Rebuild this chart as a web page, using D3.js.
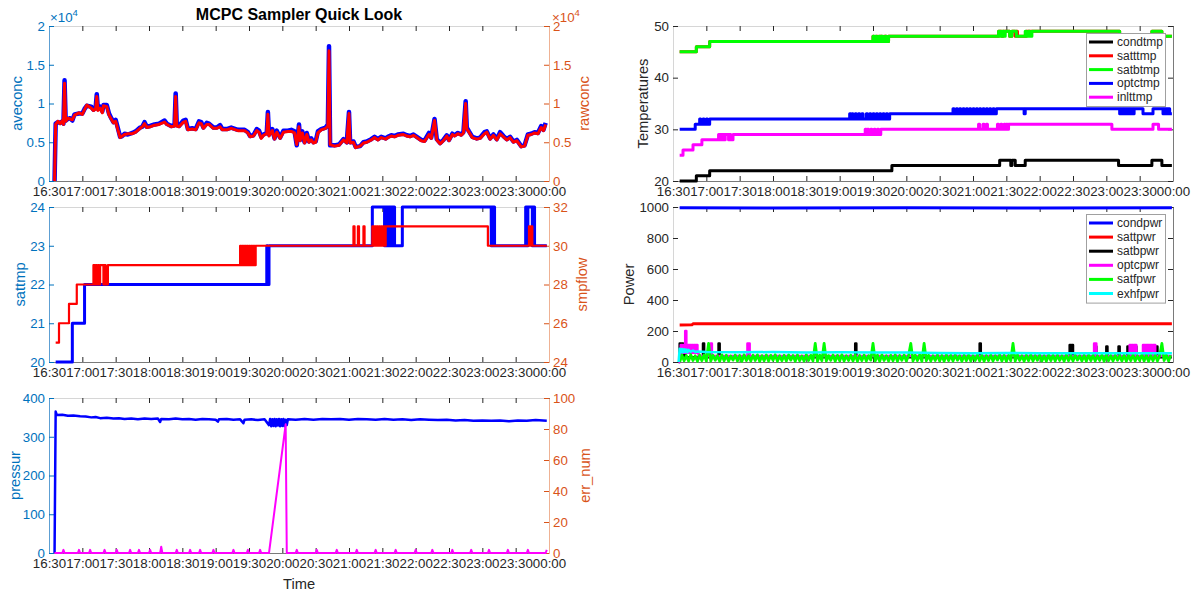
<!DOCTYPE html>
<html>
<head>
<meta charset="utf-8">
<script src="https://cdn.jsdelivr.net/npm/d3@7"></script>
<style>
  body { margin: 0; background: #fff; }
  svg { display: block; font-family: "Liberation Sans", Arial, Helvetica, sans-serif; }
</style>
</head>
<body>
<svg id="fig" width="1193" height="592"></svg>
<script>
// ---------- data ----------
const timeTicks = ['16:30','17:00','17:30','18:00','18:30','19:00','19:30','20:00',
  '20:30','21:00','21:30','22:00','22:30','23:00','23:30','00:00']

// panel 1 : aveconc / rawconc
const concTicks = [0, 0.5, 1, 1.5, 2]          // x 10^4
const concTimes = [
  '16:35','16:36','16:38','16:40','16:42','16:43','16:44','16:45','16:47','16:49',
  '16:51','16:53','16:57','17:00','17:02','17:04','17:08','17:10','17:12','17:13',
  '17:14','17:16','17:18','17:19','17:22','17:24','17:26','17:28','17:30','17:32',
  '17:34','17:36','17:38','17:41','17:45','17:48','17:52','17:54','17:56','17:58',
  '18:01','18:05','18:09','18:14','18:16','18:20','18:23','18:24','18:25','18:27',
  '18:31','18:33','18:35','18:39','18:42','18:45','18:47','18:49','18:52','18:54',
  '18:58','19:01','19:04','19:06','19:10','19:14','19:16','19:20','19:26','19:29',
  '19:31','19:34','19:37','19:39','19:41','19:43','19:46','19:47','19:48','19:51',
  '19:53','19:55','19:58','20:01','20:05','20:08','20:11','20:13','20:15','20:16',
  '20:18','20:20','20:22','20:24','20:26','20:28','20:30','20:32','20:35','20:39',
  '20:41','20:42','20:43','20:47','20:51','20:55','20:58','21:00','21:01','21:04',
  '21:06','21:10','21:13','21:16','21:20','21:23','21:26','21:29','21:33','21:35',
  '21:38','21:41','21:44','21:49','21:52','21:55','21:58','22:01','22:05','22:08',
  '22:12','22:14','22:17','22:19','22:22','22:25','22:28','22:30','22:33','22:35',
  '22:38','22:41','22:43','22:45','22:46','22:48','22:51','22:55','22:58','23:02',
  '23:04','23:07','23:10','23:13','23:16','23:19','23:22','23:25','23:28','23:31',
  '23:35','23:38','23:41','23:44','23:47','23:50','23:53','23:55','23:57']
const aveconc = [
  0,7400,7600,7500,7700,7400,13000,7800,8000,8100,
  7800,8600,8700,8700,9300,9700,9600,9200,9500,11200,
  9300,9600,9000,9800,9800,8700,8100,7600,7900,6800,
  5700,5800,6100,6000,6200,6400,6900,7000,7600,7000,
  7100,7300,7400,7800,7400,7100,7200,11300,7200,7100,
  7800,7900,6700,6800,6700,7700,7600,6900,7500,7400,
  6900,6900,7200,6700,6700,6900,6800,6600,6600,6300,
  5800,5900,6700,6500,5700,6000,6200,8900,6000,6700,
  5500,6500,5600,6500,6500,6600,6400,4600,7300,5300,
  6400,5000,6200,5100,5500,5000,5100,6400,6700,6900,
  7300,17400,4600,4600,4700,5400,5000,8900,5000,5100,
  4400,4500,5000,5100,5400,5700,5400,5700,5500,5700,
  5900,5800,6000,6100,5900,5800,6000,5700,5300,5200,
  6200,5600,8000,5400,4900,5300,5900,5300,6100,5900,
  6200,6000,6300,10300,6900,6400,5700,5500,5600,6300,
  6400,5500,6000,5400,6300,5800,5400,5700,5100,5300,
  4500,4600,6000,6100,6300,6200,7100,6600,7500]
const rawconc = [
  0,7300,7700,7400,7800,7300,12600,7700,8100,8000,
  7900,8500,8800,8600,9200,9800,9400,9100,9300,10900,
  9100,9400,8800,9700,9600,8500,8000,7500,7700,6600,
  5600,5800,6000,6100,6100,6300,6800,7000,7400,6900,
  7000,7200,7300,7600,7300,7000,7100,10900,7100,7000,
  7600,7700,6600,6700,6600,7500,7400,6800,7300,7300,
  6800,6800,7000,6600,6600,6800,6700,6500,6500,6200,
  5700,5800,6500,6300,5500,5900,6100,8600,5800,6500,
  5400,6300,5500,6300,6400,6400,6200,4700,7000,5200,
  6200,4900,6000,5000,5300,4900,5000,6200,6600,6800,
  7100,16800,4700,4500,4600,5300,4900,8700,4900,5000,
  4300,4500,4900,5000,5300,5600,5300,5600,5400,5600,
  5800,5700,5900,6000,5800,5700,5900,5600,5200,5100,
  6000,5500,7800,5300,4800,5200,5800,5200,6000,5800,
  6100,5900,6200,10000,6700,6300,5600,5400,5500,6100,
  6300,5400,5900,5300,6100,5700,5300,5600,5000,5200,
  4400,4500,5900,6000,6200,6100,6900,6500,7300]

// panel 2 : sattmp / smpflow (stepped)
const sattmpTicks = [20, 21, 22, 23, 24]
const smpflowTicks = [24, 26, 28, 30, 32]
const sattmpTimes = ['16:36','16:51','17:02','19:46','19:47','19:48','21:21','21:32','21:33','21:34',
  '21:35','21:36','21:37','21:38','21:39','21:41','21:48','23:08','23:09','23:11',
  '23:39','23:40','23:41','23:45','23:46','23:47','23:58']
const sattmp = [20,21,22,23,22,23,24,23,24,23, 24,23,24,23,24,23,24,23,24,23, 24,23,24,23,24,23,23]
const smpflowTimes = ['16:36','16:39','16:48','16:55','17:10','17:11','17:12','17:13','17:14','17:15',
  '17:16','17:19','17:20','17:21','17:23','19:22','19:23','19:24','19:25','19:26',
  '19:27','19:28','19:29','19:30','19:31','19:32','19:33','19:34','19:35','19:36',
  '21:04','21:05','21:08','21:09','21:13','21:14','21:21','21:22','21:23','21:24',
  '21:25','21:26','21:27','21:28','21:29','21:30','21:31','21:32','21:33','23:05',
  '23:42','23:43','23:44','23:45','23:58']
const smpflow = [25,26,27,28,29,28,29,28,29,28, 29,28,29,28,29,30,29,30,29,30,
  29,30,29,30,29,30,29,30,29,30, 31,30,31,30,31,30,31,30,31,30,
  31,30,31,30,31,30,31,30,31,30, 31,30,31,30,30]

// panel 3 : pressur / err_num
const pressTicks = [0, 100, 200, 300, 400]
const errTicks = [0, 20, 40, 60, 80, 100]
const pressTimes = ['16:35','16:36','16:37','16:42','16:47','16:52','16:58','17:03','17:08','17:12',
  '17:16','17:22','17:28','17:33','17:38','17:44','17:50','17:56','18:02','18:08',
  '18:10','18:11','18:18','18:24','18:30','18:36','18:42','18:48','18:54','19:00',
  '19:02','19:03','19:10','19:16','19:22','19:25','19:26','19:32','19:38','19:44',
  '19:48','19:49','19:50','19:51','19:52','19:53','19:54','19:55','19:56','19:57',
  '19:58','19:59','20:00','20:01','20:02','20:03','20:04','20:05','20:12','20:20',
  '20:28','20:36','20:44','20:52','21:00','21:08','21:16','21:24','21:32','21:40',
  '21:48','21:56','22:04','22:12','22:20','22:28','22:36','22:44','22:52','23:00',
  '23:08','23:16','23:24','23:32','23:40','23:48','23:58']
const pressur = [0,365,356,357,354,355,353,352,350,351,
  348,349,347,348,346,347,345,347,346,347,
  338,346,345,347,345,346,344,346,345,344,
  339,345,346,344,345,335,344,345,343,345,
  330,346,327,345,328,346,327,345,329,346,
  327,345,328,346,327,344,330,345,344,346,
  344,346,345,346,344,346,345,344,346,344,
  345,343,345,344,343,344,342,343,341,342,
  341,342,340,342,341,343,341]
const errTimes = ['16:35','16:42','16:43','16:44','16:56','16:57','16:58','17:06','17:07','17:08',
  '17:19','17:20','17:21','17:30','17:31','17:32','17:42','17:43','17:44','17:50',
  '17:51','17:52','18:00','18:01','18:02','18:10','18:11','18:12','18:24','18:25',
  '18:26','18:36','18:37','18:38','18:45','18:46','18:47','18:57','18:58','18:59',
  '19:15','19:16','19:17','19:28','19:29','19:30','19:39','19:40','19:41','19:48',
  '20:03','20:04','20:12','20:13','20:14','20:30','20:31','20:32','20:48','20:49',
  '20:50','21:06','21:07','21:08','21:23','21:24','21:25','21:41','21:42','21:43',
  '21:59','22:00','22:01','22:14','22:15','22:16','22:32','22:33','22:34','22:49',
  '22:50','22:51','23:05','23:06','23:07','23:22','23:23','23:24','23:40','23:41',
  '23:42','23:57','23:58']
const errNum = [0,0,2,0,0,2,0,0,2,0,
  0,2,0,0,2,0,0,2,0,0,
  2,0,0,2,0,0,4,0,0,2,
  0,0,2,0,0,2,0,0,2,0,
  0,2,0,0,2,0,0,2,0,0,
  83,0,0,2,0,0,2,0,0,2,
  0,0,2,0,0,2,0,0,2,0,
  0,2,0,0,2,0,0,2,0,0,
  2,0,0,2,0,0,2,0,0,2,
  0,0,2]

// right top : temperatures (stepped)
const tempTicks = [20, 30, 40, 50]
const condtmpTimes = ['16:36','16:51','17:03','19:47','21:24','21:34','21:35','21:38','21:47','23:11','23:41','23:50','23:59']
const condtmp = [20,21,22,23,24,23,24,23,24,23,24,23,23]
const satttmpTimes = ['16:36','16:51','17:03','19:30','19:31','19:33','19:34','19:36','19:38','19:40',
  '19:42','19:44','21:23','21:26','21:27','21:33','21:35','21:38','21:39','21:40',
  '21:48','23:12','23:41','23:50','23:59']
const satttmp = [45,46,47,48,47,48,47,48,47,48, 47,48,49,48,49,48,49,48,49,48, 49,48,49,48,48]
const satbtmpTimes = ['16:36','16:51','17:03','19:30','19:31','19:32','19:33','19:35','19:36','19:37',
  '19:39','19:41','19:42','19:44','21:23','21:25','21:26','21:28','21:29','21:33',
  '21:35','21:39','21:47','21:48','21:50','21:51','21:53','23:12','23:41','23:50','23:59']
const satbtmp = [45,46,47,48,47,48,47,48,47,48, 47,48,47,48,49,48,49,48,49,48,
  49,48,49,48,49,48,49,48,49,48,48]
const optctmpTimes = ['16:36','16:50','16:54','16:55','16:57','16:58','17:00','17:01','17:03','19:09',
  '19:10','19:11','19:12','19:14','19:15','19:17','19:18','19:20','19:21','19:24',
  '19:25','19:27','19:28','19:30','19:31','19:33','19:34','19:36','19:37','19:39',
  '19:40','19:42','19:43','19:45','20:42','20:43','20:45','20:46','20:48','20:49',
  '20:51','20:52','20:54','20:55','20:57','20:58','21:00','21:01','21:03','21:04',
  '21:06','21:07','21:09','21:10','21:12','21:13','21:15','21:16','21:18','21:19',
  '21:21','21:46','21:47','23:12','23:13','23:15','23:16','23:18','23:19','23:21',
  '23:22','23:24','23:25','23:33','23:42','23:51','23:52','23:54','23:55','23:57','23:59']
const optctmp = [30,31,32,31,32,31,32,31,32,33, 32,33,32,33,32,33,32,33,32,33,
  32,33,32,33,32,33,32,33,32,33, 32,33,32,33,34,33,34,33,34,33,
  34,33,34,33,34,33,34,33,34,33, 34,33,34,33,34,33,34,33,34,33,
  34,33,34,33,34,33,34,33,34,33, 34,33,34,33,34,33,34,33,34,33,33]
const inlttmpTimes = ['16:36','16:39','16:48','16:56','17:11','17:12','17:13','17:14','17:15','17:16',
  '17:17','17:20','17:21','17:22','17:24','19:23','19:24','19:25','19:26','19:28',
  '19:29','19:31','19:32','19:34','19:35','19:37','21:05','21:06','21:09','21:10',
  '21:12','21:13','21:22','21:23','21:25','21:26','21:28','21:29','21:30','21:31',
  '21:32','23:05','23:42','23:47','23:59']
const inlttmp = [25,26,27,28,29,28,29,28,29,28, 29,28,29,28,29,30,29,30,29,30,
  29,30,29,30,29,30,31,30,31,30, 31,30,31,30,31,30,31,30,31,30, 31,30,31,30,30]

// right bottom : power
const powerTicks = [0, 200, 400, 600, 800, 1000]
const condpwrTimes = ['16:36','18:00','20:00','22:00','23:59']
const condpwr = [995, 994, 995, 994, 995]
const sattpwrTimes = ['16:36','16:47','16:48','23:59']
const sattpwr = [239, 240, 246, 246]
const satbpwrTimes = ['16:35','16:36','16:37','16:38','16:39','16:40','16:41','16:57','16:58','17:11',
  '17:12','19:14','19:15','21:06','21:07','22:27','22:28','22:29','22:30','22:50',
  '22:51','23:00','23:01','23:11','23:12','23:19','23:20','23:21','23:22','23:26',
  '23:27','23:45','23:46','23:59']
const satbpwr = [0,120,40,120,40,110,30,120,30,120, 30,120,30,120,30,110,40,110,30,100,
  30,100,30,100,30,100,40,100,30,100, 30,100,30,30]
const optcpwrTimes = ['16:35','16:36','16:37','16:38','16:39','16:40','16:41','16:42','16:43','16:44',
  '16:45','16:46','16:47','16:48','16:49','16:50','16:51','16:52','16:53','17:04',
  '17:05','17:37','17:39','22:49','22:51','23:21','23:22','23:23','23:24','23:25',
  '23:27','23:33','23:35','23:36','23:38','23:39','23:41','23:42','23:44','23:59']
const optcpwr = [0,60,110,60,110,60,200,60,110,60, 110,60,110,60,110,60,110,60,38,120,
  38,120,38,120,38,110,38,110,38,110, 38,110,38,110,38,110,38,110,38,38]
// satfpwr logged every 2 min from 16:36
const satfpwrStart = '16:36'
const satfpwrStepMin = 2
const satfpwr = [
  0,45,8,42,6,47,10,40,5,44,9,46,7,120,6,43,11,41,5,46,
  8,44,6,39,12,45,7,42,5,47,9,40,6,44,10,46,4,41,8,45,
  6,43,11,47,5,40,9,44,7,46,12,42,5,45,8,39,6,47,10,43,
  7,120,5,44,9,120,6,41,11,45,5,43,8,47,6,40,10,44,7,46,
  5,42,9,45,6,41,12,120,7,44,5,46,10,40,6,43,8,47,5,42,
  11,45,7,41,120,6,44,9,46,5,120,8,43,6,40,10,45,7,42,5,
  46,9,43,6,47,11,41,5,44,8,45,6,40,10,46,7,43,5,42,9,
  45,6,41,12,47,7,44,5,43,9,120,6,46,10,40,5,44,8,47,6,
  42,11,45,7,41,5,46,9,43,6,44,10,40,5,47,8,42,6,45,12,
  41,7,44,5,46,9,43,6,40,10,45,5,47,8,42,6,44,11,41,7,
  46,5,43,9,45,6,40,10,47,7,44,5,42,8,46,6,41,120,9,45,
  7,44]
const exhfpwrTimes = ['16:35','16:36','16:37','16:38','16:39','16:40','16:41','16:42','16:43','16:44',
  '16:46','16:48','16:50','16:52','17:00','17:30','18:00','18:30','19:00','19:30',
  '20:00','20:30','21:00','21:30','22:00','22:30','23:00','23:30','23:59']
const exhfpwr = [0,85,62,84,63,82,64,80,62,78, 66,74,65,68,64,63,64,62,63,61,
  62,58,57,58,56,57,56,57,56]

// ---------- drawing ----------
const svg = d3.select('#fig')
const FONT = '"Liberation Sans", Arial, Helvetica, sans-serif'
const DARK = '#262626'
const AX_BLUE = '#0072BD', AX_ORANGE = '#D95319'
const W = 500, H = 155

const parseT = s => {
  const p = s.split(':').map(Number)
  return new Date(2021, 0, p[0] < 12 ? 2 : 1, p[0], p[1])
}
const x = d3.scaleTime().domain([parseT('16:30'), parseT('00:00')]).range([0, W])
const xTickDates = timeTicks.map(parseT)

function styleAxis(a, color, domainColor) {
  a.attr('font-size', null).attr('font-family', null)
  a.select('.domain').attr('stroke', domainColor || color)
  a.selectAll('.tick line').attr('stroke', color)
  a.selectAll('.tick text').attr('fill', color).attr('font-size', 13.3).attr('font-family', FONT)
}

// axes box in the matlab look: ticks pointing inside
function frame(px, py, opt) {
  const g = svg.append('g').attr('transform', `translate(${px},${py})`)
  g.append('g')
    .call(d3.axisTop(x).tickValues(xTickDates).tickSize(-5).tickSizeOuter(0).tickFormat(''))
    .call(a => styleAxis(a, DARK, '#d6d6d6'))
  g.append('g').attr('transform', `translate(0,${H})`)
    .call(d3.axisBottom(x).tickValues(xTickDates).tickSize(-5).tickSizeOuter(0).tickPadding(6)
      .tickFormat(d3.timeFormat('%H:%M')))
    .call(a => styleAxis(a, DARK, '#7a7a7a'))
  g.append('g')
    .call(d3.axisLeft(opt.yL).tickValues(opt.ticksL).tickSize(-5).tickSizeOuter(0).tickPadding(4)
      .tickFormat(opt.fmtL || (d => d)))
    .call(a => styleAxis(a, opt.colL, opt.lineL))
  g.append('g').attr('transform', `translate(${W},0)`)
    .call(d3.axisRight(opt.yR).tickValues(opt.ticksR).tickSize(-5).tickSizeOuter(0).tickPadding(4)
      .tickFormat(opt.fmtR || (d => d)))
    .call(a => styleAxis(a, opt.colR, opt.lineR))
  return g
}

function plot(g, times, vals, y, color, width, curve) {
  const ln = d3.line()
    .x(d => x(d[0]))
    .y(d => y(d[1]))
    .curve(curve || d3.curveLinear)
  g.append('path')
    .datum(d3.zip(times.map(parseT), vals))
    .attr('d', ln)
    .attr('fill', 'none')
    .attr('stroke', color)
    .attr('stroke-width', width)
    .attr('stroke-linejoin', 'round')
}

function ylabel(txt, cx, cy, color) {
  svg.append('text')
    .attr('transform', `translate(${cx},${cy}) rotate(-90)`)
    .attr('text-anchor', 'middle')
    .attr('font-size', 14.7)
    .attr('fill', color)
    .text(txt)
}

function expLabel(px, py, color) {
  const t = svg.append('text').attr('x', px).attr('y', py).attr('font-size', 13.3).attr('fill', color)
  t.append('tspan').text('\u00d710')
  t.append('tspan').attr('dy', -6).attr('font-size', 9.5).text('4')
}

function legend(g, lx, ly, items, rowH) {
  const w = 79, h = items.length * rowH + 4
  const lg = g.append('g').attr('transform', `translate(${lx},${ly})`)
  lg.append('rect').attr('x', 0.5).attr('y', 0.5).attr('width', w).attr('height', h)
    .attr('fill', '#fff').attr('stroke', '#a0a0a0').attr('stroke-width', 1)
  items.forEach((it, i) => {
    const yy = 9 + i * rowH
    lg.append('line').attr('x1', 3).attr('x2', 27).attr('y1', yy).attr('y2', yy)
      .attr('stroke', it[1]).attr('stroke-width', 3)
    lg.append('text').attr('x', 31).attr('y', yy).attr('dy', '0.34em')
      .attr('font-size', 12).attr('fill', DARK).text(it[0])
  })
}

// ---- left 1 : concentrations ----
const yConc = d3.scaleLinear().domain([0, 20000]).range([H, 0])
const g1 = frame(49, 26, {
  yL: yConc, ticksL: concTicks.map(v => v * 1e4), fmtL: d => d / 1e4, colL: AX_BLUE, lineL: '#5d9fd3',
  yR: yConc, ticksR: concTicks.map(v => v * 1e4), fmtR: d => d / 1e4, colR: AX_ORANGE, lineR: '#efb294'
})
plot(g1, concTimes, aveconc, yConc, '#0000ff', 4.5)
plot(g1, concTimes, rawconc, yConc, '#ff0000', 3)
expLabel(50, 21.5, AX_BLUE)
expLabel(552, 21.5, AX_ORANGE)

// ---- left 2 : sattmp / smpflow ----
const ySat = d3.scaleLinear().domain([20, 24]).range([H, 0])
const yFlow = d3.scaleLinear().domain([24, 32]).range([H, 0])
const g2 = frame(49, 207, {
  yL: ySat, ticksL: sattmpTicks, colL: AX_BLUE, lineL: '#5d9fd3',
  yR: yFlow, ticksR: smpflowTicks, colR: AX_ORANGE, lineR: '#efb294'
})
plot(g2, sattmpTimes, sattmp, ySat, '#0000ff', 3, d3.curveStepAfter)
plot(g2, smpflowTimes, smpflow, yFlow, '#ff0000', 2.2, d3.curveStepAfter)

// ---- left 3 : pressure / error number ----
const yPress = d3.scaleLinear().domain([0, 400]).range([H, 0])
const yErr = d3.scaleLinear().domain([0, 100]).range([H, 0])
const g3 = frame(49, 398, {
  yL: yPress, ticksL: pressTicks, colL: AX_BLUE, lineL: '#5d9fd3',
  yR: yErr, ticksR: errTicks, colR: AX_ORANGE, lineR: '#efb294'
})
plot(g3, pressTimes, pressur, yPress, '#0000ff', 2.5)
plot(g3, errTimes, errNum, yErr, '#ff00ff', 2)

// ---- right 1 : temperatures ----
const yTemp = d3.scaleLinear().domain([20, 50]).range([H, 0])
const g4 = frame(673, 26, {
  yL: yTemp, ticksL: tempTicks, colL: DARK, lineL: '#d6d6d6',
  yR: yTemp, ticksR: tempTicks, fmtR: () => '', colR: DARK, lineR: '#7a7a7a'
})
plot(g4, condtmpTimes, condtmp, yTemp, '#000000', 3, d3.curveStepAfter)
plot(g4, satttmpTimes, satttmp, yTemp, '#ff0000', 3, d3.curveStepAfter)
plot(g4, satbtmpTimes, satbtmp, yTemp, '#00ff00', 3, d3.curveStepAfter)
plot(g4, optctmpTimes, optctmp, yTemp, '#0000ff', 3, d3.curveStepAfter)
plot(g4, inlttmpTimes, inlttmp, yTemp, '#ff00ff', 3, d3.curveStepAfter)
legend(g4, 413, 7, [['condtmp', '#000000'], ['satttmp', '#ff0000'], ['satbtmp', '#00ff00'],
  ['optctmp', '#0000ff'], ['inlttmp', '#ff00ff']], 13.8)

// ---- right 2 : power ----
const yPow = d3.scaleLinear().domain([0, 1000]).range([H, 0])
const g5 = frame(673, 207, {
  yL: yPow, ticksL: powerTicks, colL: DARK, lineL: '#d6d6d6',
  yR: yPow, ticksR: powerTicks, fmtR: () => '', colR: DARK, lineR: '#7a7a7a'
})
const satfT0 = parseT(satfpwrStart)
const satfTimes = satfpwr.map((v, i) => d3.timeFormat('%H:%M')(d3.timeMinute.offset(satfT0, i * satfpwrStepMin)))
plot(g5, condpwrTimes, condpwr, yPow, '#0000ff', 3)
plot(g5, sattpwrTimes, sattpwr, yPow, '#ff0000', 3)
plot(g5, satbpwrTimes, satbpwr, yPow, '#000000', 2.5, d3.curveStepAfter)
plot(g5, optcpwrTimes, optcpwr, yPow, '#ff00ff', 2.5, d3.curveStepAfter)
plot(g5, satfTimes, satfpwr, yPow, '#00ff00', 2.8)
plot(g5, exhfpwrTimes, exhfpwr, yPow, '#00ffff', 2.5)
legend(g5, 413, 7, [['condpwr', '#0000ff'], ['sattpwr', '#ff0000'], ['satbpwr', '#000000'],
  ['optcpwr', '#ff00ff'], ['satfpwr', '#00ff00'], ['exhfpwr', '#00ffff']], 14.1)

// ---- labels ----
svg.append('text').attr('x', 299).attr('y', 19.5).attr('text-anchor', 'middle')
  .attr('font-size', 16).attr('font-weight', 'bold').attr('fill', '#000')
  .text('MCPC Sampler Quick Look')
svg.append('text').attr('x', 299).attr('y', 589).attr('text-anchor', 'middle')
  .attr('font-size', 14.7).attr('fill', DARK).text('Time')
ylabel('aveconc', 22, 103.5, AX_BLUE)
ylabel('rawconc', 589, 103.5, AX_ORANGE)
ylabel('sattmp', 24.5, 284.5, AX_BLUE)
ylabel('smpflow', 587, 284.5, AX_ORANGE)
ylabel('pressur', 19.5, 475.5, AX_BLUE)
ylabel('err_num', 590, 475.5, AX_ORANGE)
ylabel('Temperatures', 648, 103.5, DARK)
ylabel('Power', 633.5, 284.5, DARK)
</script>
</body>
</html>
